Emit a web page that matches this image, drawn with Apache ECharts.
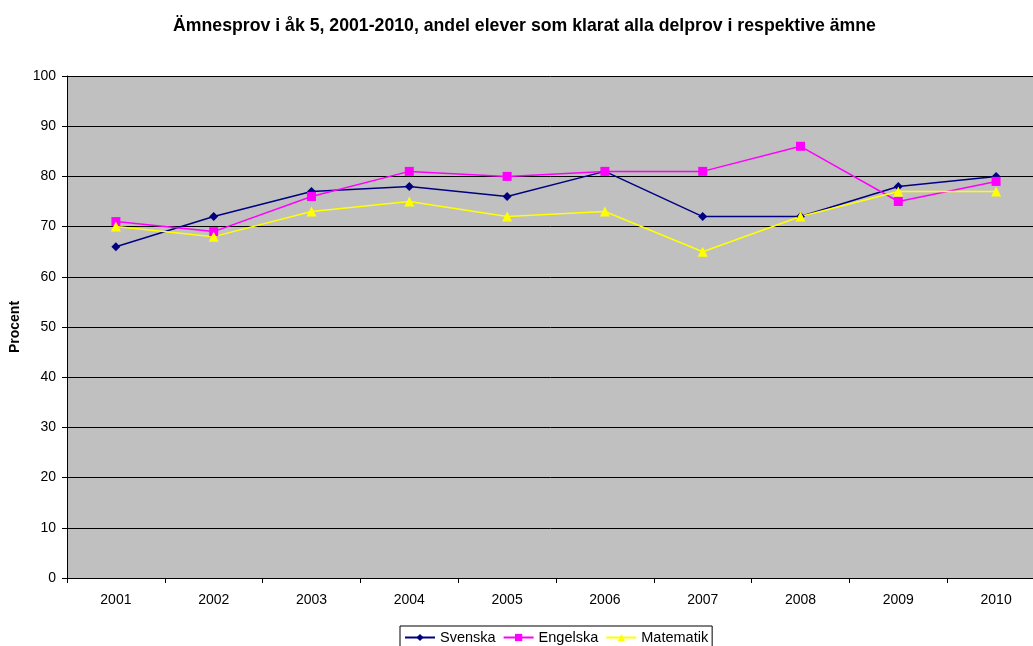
<!DOCTYPE html>
<html>
<head>
<meta charset="utf-8">
<script src="https://cdn.jsdelivr.net/npm/echarts@6/dist/echarts.min.js"></script>
<style>
  html, body { margin: 0; padding: 0; background: #fff; }
  #chart { width: 1033px; height: 646px; }
</style>
</head>
<body>
<div id="chart"></div>
<script>
var years = ["2001", "2002", "2003", "2004", "2005", "2006", "2007", "2008", "2009", "2010"];
var svenska = [66, 72, 77, 78, 76, 81, 72, 72, 78, 80];
var engelska = [71, 69, 76, 81, 80, 81, 81, 86, 75, 79];
var matematik = [70, 68, 73, 75, 72, 73, 65, 72, 77, 77];

var font = "Arial, 'Liberation Sans', sans-serif";
var myChart = echarts.init(document.getElementById("chart"));

var option = {
  backgroundColor: "#ffffff",
  animation: false,
  textStyle: { fontFamily: font },
  title: {
    text: "Ämnesprov i åk 5, 2001-2010, andel elever som klarat alla delprov i respektive ämne",
    left: 168,
    top: 12,
    textStyle: { fontSize: 17.7, fontWeight: "bold", color: "#000", fontFamily: font }
  },
  legend: {
    left: 400,
    top: 626,
    itemGap: 7,
    itemWidth: 30,
    itemHeight: 9,
    padding: [4, 4, 4, 4],
    borderColor: "#000",
    borderWidth: 1,
    textStyle: { fontSize: 14.5, color: "#000", fontFamily: font },
    data: ["Svenska", "Engelska", "Matematik"]
  },
  grid: {
    left: 67,
    right: -12,
    top: 76,
    bottom: 68,
    outerBoundsMode: "none",
    show: true,
    backgroundColor: "#C0C0C0",
    borderWidth: 0
  },
  xAxis: {
    type: "category",
    data: years,
    boundaryGap: true,
    axisLine: { lineStyle: { color: "#000", width: 1 } },
    axisTick: { show: true, length: 5, lineStyle: { color: "#000" } },
    axisLabel: { color: "#000", fontSize: 14, margin: 15, fontFamily: font }
  },
  yAxis: {
    type: "value",
    min: 0,
    max: 100,
    interval: 10,
    name: "Procent",
    nameLocation: "middle",
    nameGap: 43,
    nameTextStyle: { fontSize: 14, fontWeight: "bold", color: "#000", fontFamily: font },
    axisLine: { show: true, lineStyle: { color: "#000", width: 1 } },
    axisTick: { show: true, length: 5, lineStyle: { color: "#000" } },
    axisLabel: { color: "#000", fontSize: 14, margin: 11, fontFamily: font },
    splitLine: { show: true, lineStyle: { color: "#000", width: 1 } }
  },
  series: [
    {
      name: "Svenska",
      type: "line",
      data: svenska,
      symbol: "diamond",
      symbolSize: 9,
      color: "#000080",
      lineStyle: { color: "#000080", width: 1.5 },
      itemStyle: { color: "#000080" }
    },
    {
      name: "Engelska",
      type: "line",
      data: engelska,
      symbol: "rect",
      symbolSize: 9,
      color: "#FF00FF",
      lineStyle: { color: "#FF00FF", width: 1.5 },
      itemStyle: { color: "#FF00FF" }
    },
    {
      name: "Matematik",
      type: "line",
      data: matematik,
      symbol: "triangle",
      symbolSize: 10,
      color: "#FFFF00",
      lineStyle: { color: "#FFFF00", width: 1.5 },
      itemStyle: { color: "#FFFF00" }
    }
  ]
};

myChart.setOption(option);
</script>
</body>
</html>
